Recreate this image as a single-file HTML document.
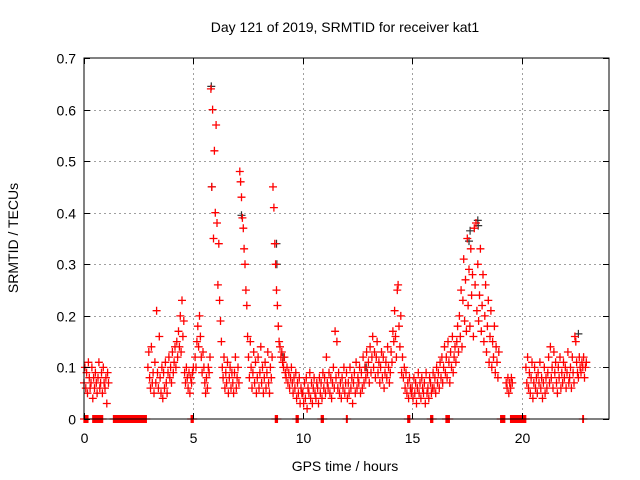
<!DOCTYPE html>
<html><head><meta charset="utf-8"><style>
body{margin:0;background:#fff;}
svg{display:block;font-family:"Liberation Sans",sans-serif;}
</style></head><body>
<svg id="c" width="640" height="480">
<text x="345" y="32" font-size="14" text-anchor="middle">Day 121 of 2019, SRMTID for receiver kat1</text>
<text x="345" y="471" font-size="14" text-anchor="middle">GPS time / hours</text>
<text transform="translate(18,238) rotate(-90)" font-size="14" text-anchor="middle">SRMTID / TECUs</text>
<g id="grid"></g>
<g id="marks"></g>
<rect x="84" y="58" width="525" height="361" fill="none" stroke="#000" stroke-width="1"/>
<g id="ticks"></g>
</svg>
<script>
const xTicks=[0,5,10,15,20];
const yTicks=[0,0.1,0.2,0.3,0.4,0.5,0.6,0.7];
const yTickLabels=["0","0.1","0.2","0.3","0.4","0.5","0.6","0.7"];
const segStarts=[0.0,2.92,5.08,10.0,19.3,20.2];
const seg1=[7,10,6,9,5,11,8,6,7,10,4,8,6,9,7,5,8,11,6,7,9,5,10,7,6,8,3,9,7];
const seg2=[10,13,8,6,14,7,9,5,11,7,21,9,6,16,8,5,10,4,9,6,11,7,5,9,12,8,10,7,13,9,11,14,10,15,12,17,14,20,13,23,16,19,9,7,10,8,6,9,5,8,7,9,10];
const seg3=[12,10,15,18,14,20,16,12,9,13,10,7,5,8,6,10,9,12,64,45,60,35,52,40,57,38,26,34,23,19,15,10,8,12,6,9,7,11,5,8,10,6,9,7,5,9,12,6,8,10,7,48,46,43,39,37,33,30,25,22,16,12,8,15,10,6,9,13,7,11,5,8,12,6,9,14,7,10,5,8,11,6,9,13,7,5,10,8,12,45,41,34,30,25,22,18,15,14,12,13,11,10,12,9,8,10,7,9,6,8,10,7,5,8,6,9,4,7,5,8,3,6,5];
const seg4=[5,3,7,4,8,2,6,5,9,4,7,3,6,8,5,4,7,6,3,8,5,7,4,9,6,
8,5,12,7,6,9,5,8,4,7,10,6,17,8,15,6,9,5,7,4,8,6,10,5,7,
9,4,7,5,10,6,8,3,7,9,5,11,6,8,7,10,5,9,6,12,7,10,8,13,9,
11,7,14,9,12,16,10,13,8,12,15,9,11,7,10,13,8,12,6,9,11,8,14,10,7,
9,13,11,17,15,21,16,12,25,26,18,14,20,9,12,8,10,6,9,5,7,4,8,6,5,
6,4,8,5,7,3,6,9,5,7,4,8,6,5,7,3,9,5,6,4,8,7,5,6,9,
6,8,5,10,7,9,6,11,8,12,7,10,14,9,12,8,15,11,7,13,10,16,9,12,14,
11,15,18,13,20,16,25,14,23,31,19,27,17,35,22,29,18,33,24,28,16,37,26,38,21,
30,19,24,33,17,22,28,15,20,26,13,18,23,11,16,21,10,15,12,18,9,14,11,8,13];
const seg5=[7,6,8,5,7,6,8,7];
const seg6=[10,7,12,6,9,5,8,11,4,7,10,6,8,5,9,7,11,6,8,4,7,10,5,8,6,
9,12,7,14,8,10,6,13,9,11,7,5,10,8,12,6,9,7,11,8,10,6,9,13,7,
8,10,6,12,9,7,16,15,11,9,8,12,10,9,11,10,12,8,10,11];
const segValues=[seg1,seg2,seg3,seg4,seg5,seg6];
const sampleStep=0.04;
const zeroRanges=[[0,0.2],[0.4,0.85],[1.35,2.85],[4.9,5.0],[8.75,8.85],[9.7,9.8],[10.85,10.95],[12.0,12.05],[14.8,14.9],[15.85,15.95],[16.55,16.7],[19.05,19.25],[19.5,20.2],[22.8,22.85]];
const darkTimes=[5.82,5.84,7.2,8.8,8.82,17.6,17.65,18.0,18.02,9.1,12.9,22.6];
const darkValues=[0.645,0.45,0.395,0.34,0.3,0.345,0.365,0.385,0.375,0.12,0.1,0.165];

const X0=84,X1=609,Y0=419,Y1=58;
const sx=t=>X0+t/24*(X1-X0);
const sy=v=>Y0-v/0.7*(Y0-Y1);
const NS="http://www.w3.org/2000/svg";
const grid=document.getElementById('grid'),ticks=document.getElementById('ticks'),marks=document.getElementById('marks');
function line(p,x1,y1,x2,y2,st,dash){const l=document.createElementNS(NS,'line');l.setAttribute('x1',x1);l.setAttribute('y1',y1);l.setAttribute('x2',x2);l.setAttribute('y2',y2);l.setAttribute('stroke',st);if(dash)l.setAttribute('stroke-dasharray',dash);p.appendChild(l);return l;}
function txt(x,y,s,anchor){const t=document.createElementNS(NS,'text');t.setAttribute('x',x);t.setAttribute('y',y);t.setAttribute('font-size','14');t.setAttribute('text-anchor',anchor);t.textContent=s;ticks.appendChild(t);return t;}
yTicks.forEach((v,i)=>{const y=Math.round(sy(v))+0.5;
 if(i>0&&i<yTicks.length-1){const g=line(grid,X0,y,X1,y,'#a0a0a0','2,3');}
 line(ticks,X0,y,X0+6,y,'#000');line(ticks,X1-6,y,X1,y,'#000');
 const t=txt(X0-8,y+5,yTickLabels[i],'end');
 
 });
xTicks.forEach((h,i)=>{const x=Math.round(sx(h))+0.5;
 if(i>0){const g=line(grid,x,Y1,x,Y0,'#a0a0a0','2,3');}
 line(ticks,x,Y0,x,Y0-6,'#000');line(ticks,x,Y1,x,Y1+6,'#000');
 const t=txt(x,Y0+24,String(h),'middle');
 
 });
let dRed='',dDark='';
function plus(t,v){const x=sx(t),y=sy(v);return `M${(x-4).toFixed(1)} ${y.toFixed(1)}h8M${x.toFixed(1)} ${(y-4).toFixed(1)}v8`;}
darkTimes.forEach((t,i)=>{dDark+=plus(t,darkValues[i]);});
segValues.forEach((arr,s)=>{arr.forEach((v,i)=>{dRed+=plus(segStarts[s]+i*sampleStep,v/100);});});
zeroRanges.forEach(r=>{for(let t=r[0];t<=r[1]+1e-9;t+=0.03)dRed+=plus(t,0);});
const pd=document.createElementNS(NS,'path');pd.setAttribute('d',dDark);pd.setAttribute('stroke','#333');pd.setAttribute('fill','none');pd.setAttribute('stroke-width','1.2');


marks.appendChild(pd);
const pr=document.createElementNS(NS,'path');pr.setAttribute('d',dRed);pr.setAttribute('stroke','#ff0000');pr.setAttribute('fill','none');pr.setAttribute('stroke-width','1.3');


marks.appendChild(pr);
</script>
</body></html>
